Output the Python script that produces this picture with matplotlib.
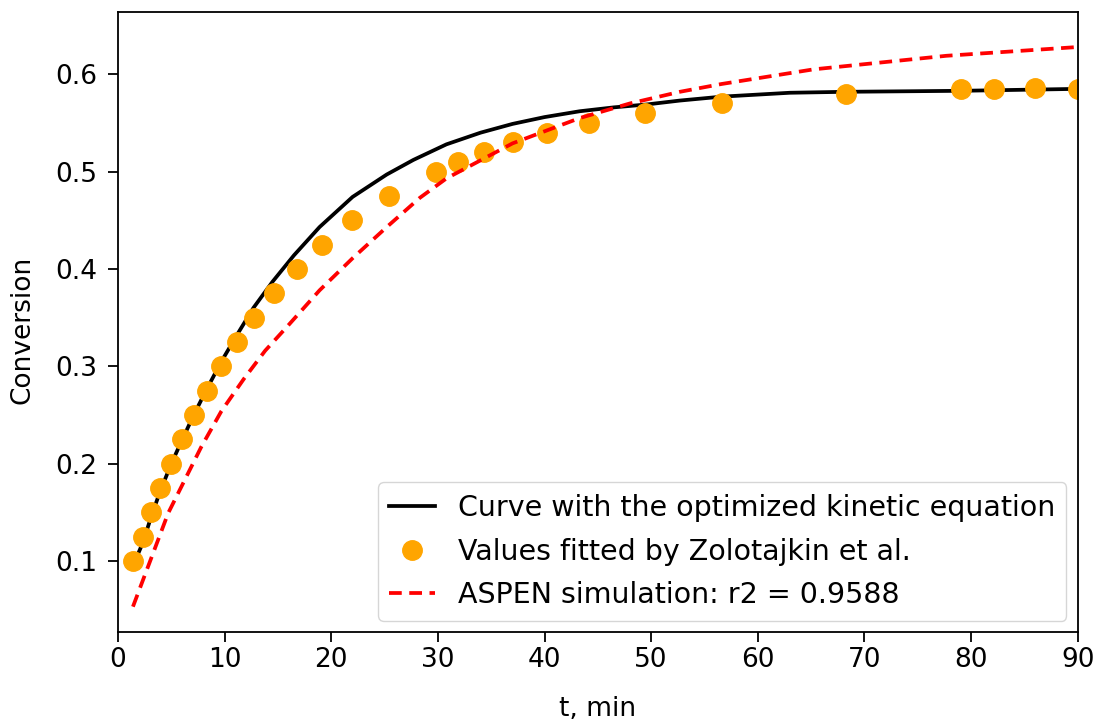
import matplotlib
matplotlib.use("Agg")
import matplotlib.pyplot as plt

# Data
t_points = [1.4, 2.3, 3.1, 3.9, 5.0, 6.0, 7.1, 8.3, 9.7, 11.2, 12.75, 14.6, 16.8,
            19.1, 21.9, 25.4, 29.8, 31.9, 34.3, 37.0, 40.2, 44.2, 49.4, 56.6,
            68.3, 79.1, 82.2, 86.0, 90.0]
x_points = [0.100, 0.125, 0.150, 0.175, 0.200, 0.225, 0.250, 0.275, 0.300, 0.325,
            0.350, 0.375, 0.400, 0.425, 0.450, 0.475, 0.500, 0.510, 0.520, 0.530,
            0.540, 0.550, 0.560, 0.570, 0.580, 0.585, 0.585, 0.586, 0.585]

t_model = [1.4, 2.3, 3.1, 3.9, 5.0, 6.0, 7.1, 8.3, 9.7, 11.2, 12.7, 14.5, 16.5,
           18.9, 22.0, 25.2, 27.7, 30.8, 34.0, 37.0, 40.0, 43.3, 46.5, 49.6,
           52.7, 56.6, 63.0, 68.3, 79.0, 90.0]
x_model = [0.095, 0.118, 0.145, 0.170, 0.200, 0.224, 0.250, 0.276, 0.305, 0.333,
           0.360, 0.387, 0.414, 0.443, 0.474, 0.497, 0.512, 0.528, 0.540, 0.549,
           0.556, 0.562, 0.566, 0.569, 0.573, 0.577, 0.581, 0.582, 0.583, 0.585]

t_aspen = [1.4, 4.7, 7.8, 9.7, 11.8, 13.8, 15.8, 18.9, 22.0, 25.2, 28.3, 30.8,
           37.0, 43.3, 48.0, 52.7, 56.6, 65.2, 77.7, 90.0]
x_aspen = [0.053, 0.149, 0.217, 0.254, 0.287, 0.316, 0.340, 0.378, 0.411, 0.443,
           0.473, 0.493, 0.529, 0.555, 0.570, 0.582, 0.590, 0.605, 0.619, 0.628]

plt.rcParams['font.family'] = ['DejaVu Sans']
fig = plt.figure(figsize=(11.03, 7.26), dpi=100)
ax = fig.add_axes([0.107, 0.1295, 0.870, 0.854])

ax.plot(t_model, x_model, color='black', lw=2.7,
        label='Curve with the optimized kinetic equation')
ax.plot(t_points, x_points, 'o', color='orange', ms=14,
        label='Values fitted by Zolotajkin et al.')
ax.plot(t_aspen, x_aspen, '--', color='red', lw=2.7, dashes=(3.4, 2.0),
        label='ASPEN simulation: r2 = 0.9588')

ax.set_xlim(0, 90)
ax.set_ylim(0.027, 0.664)
ax.set_xticks(range(0, 91, 10))
ax.set_yticks([0.1, 0.2, 0.3, 0.4, 0.5, 0.6])
ax.tick_params(labelsize=19, length=7, width=1.3)
ax.tick_params(axis='y', pad=8)
for s in ax.spines.values():
    s.set_linewidth(1.3)
ax.set_xlabel('t, min', fontsize=19)
ax.set_ylabel('Conversion', fontsize=19)
ax.xaxis.set_label_coords(0.5, -0.103)
ax.yaxis.set_label_coords(-0.086, 0.487)
ax.legend(loc='lower right', fontsize=20.5, handlelength=1.6,
          labelspacing=0.55, borderaxespad=0.4)

fig.savefig('out.png', dpi=100)
